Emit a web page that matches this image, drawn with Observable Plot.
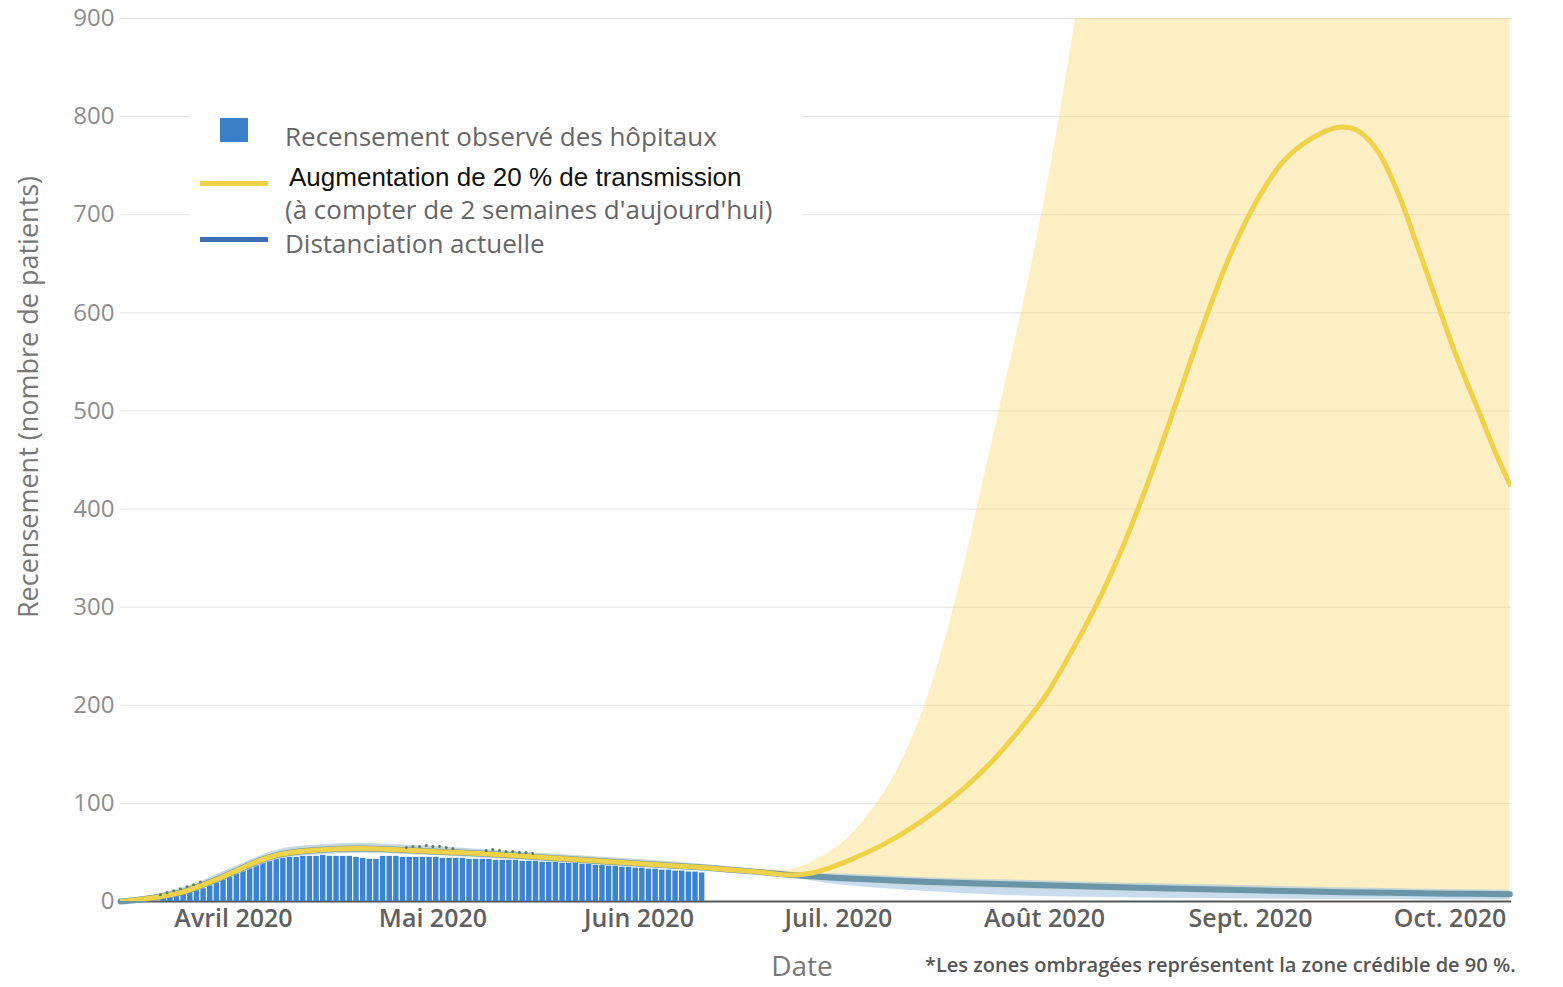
<!DOCTYPE html>
<html>
<head>
<meta charset="utf-8">
<script src="https://cdn.jsdelivr.net/npm/d3@7"></script>
<script src="https://cdn.jsdelivr.net/npm/@observablehq/plot@0.6"></script>
<style>
  body { margin: 0; background: #fff; }
  #wrap { position: relative; width: 1563px; height: 987px; overflow: hidden; font-family: "Open Sans", sans-serif; }
  #wrap svg { position: absolute; left: 0; top: 0; }
  .abs { position: absolute; white-space: nowrap; line-height: 1; }
</style>
</head>
<body>
<div id="wrap"></div>
<script>
// ---------- DATA ----------
const yTicks = [0, 100, 200, 300, 400, 500, 600, 700, 800, 900];
const xTickDates = ["2020-04-01", "2020-05-01", "2020-06-01", "2020-07-01", "2020-08-01", "2020-09-01", "2020-10-01"];
const xTickLabels = ["Avril 2020", "Mai 2020", "Juin 2020", "Juil. 2020", "Août 2020", "Sept. 2020", "Oct. 2020"];

// Observed hospital census (daily bars from 2020-03-21 to 2020-06-10)
const barStart = "2020-03-21";
const barValues = [
  3, 4, 5, 7, 9, 11, 13, 16, 19, 22, 25,
  28, 31, 34, 37, 39, 41, 43, 44, 45, 45,
  46, 46, 46, 47, 46, 46, 46, 46, 45, 44, 43, 43, 46, 46, 46, 45, 45, 45, 45, 45,
  45, 44, 44, 44, 44, 43, 43, 43, 43, 42, 42, 42, 42, 41, 41, 41, 40, 40, 40, 39, 39, 39, 38, 38, 37, 37, 36, 36, 35, 35, 34,
  34, 33, 33, 32, 32, 31, 31, 30, 30, 29
];

// Small observed points
const pointDates = ["2020-03-21","2020-03-22","2020-03-23","2020-03-24","2020-03-25","2020-03-26","2020-03-27",
  "2020-04-27","2020-04-28","2020-04-29","2020-04-30","2020-05-01","2020-05-02","2020-05-03","2020-05-04",
  "2020-05-09","2020-05-10","2020-05-11","2020-05-12","2020-05-13","2020-05-14","2020-05-15","2020-05-16"];
const pointValues = [7, 9, 11, 13, 15, 17, 20,
  55, 56, 56, 57, 56, 56, 55, 54,
  52, 53, 52, 51, 51, 50, 50, 49];

// Scenario: +20 % transmission (median)
const scenarioDates = ["2020-03-15","2020-03-18","2020-03-21","2020-03-24","2020-03-27","2020-03-30",
  "2020-04-02","2020-04-05","2020-04-08","2020-04-11","2020-04-15","2020-04-20","2020-04-25",
  "2020-05-01","2020-05-08","2020-05-15","2020-05-22","2020-05-29",
  "2020-06-05","2020-06-12","2020-06-19","2020-06-24","2020-06-27","2020-06-30",
  "2020-07-04","2020-07-08","2020-07-12","2020-07-16","2020-07-20","2020-07-24","2020-07-28",
  "2020-08-01","2020-08-05","2020-08-09","2020-08-13","2020-08-17","2020-08-21","2020-08-25","2020-08-29",
  "2020-09-02","2020-09-06","2020-09-10","2020-09-14","2020-09-17","2020-09-20","2020-09-23","2020-09-26","2020-09-29",
  "2020-10-02","2020-10-05","2020-10-08","2020-10-10"];
const scenarioValues = [0, 2, 5, 9, 16, 24,
  33, 42, 48, 51, 53, 54, 53,
  51, 49, 46, 43, 40,
  37, 34, 30, 27, 29, 35,
  46, 59, 75, 94, 116, 142, 173,
  208, 254, 305, 365, 435, 512, 590, 660,
  715, 755, 777, 789, 786, 766, 725, 670, 612,
  555, 505, 455, 425];

// Scenario 90 % credible band
const scenarioBandDates = ["2020-03-15","2020-03-21","2020-03-27","2020-04-02","2020-04-08","2020-04-15","2020-04-20",
  "2020-05-01","2020-05-15","2020-05-29","2020-06-12","2020-06-24","2020-06-28",
  "2020-07-02","2020-07-05","2020-07-08","2020-07-11","2020-07-14","2020-07-17","2020-07-20","2020-07-23","2020-07-26","2020-07-29",
  "2020-08-01","2020-08-04","2020-08-07","2020-08-10","2020-08-20","2020-09-01","2020-09-15","2020-10-01","2020-10-10"];
const scenarioBandLow = [0, 3, 13, 29, 44, 49, 50, 47, 42, 36, 31, 25, 22,
  19.5, 18.5, 17, 16, 15.3, 14.5, 14, 13.5, 13, 12.5,
  12, 11.7, 11.4, 11, 9.5, 8, 6.5, 5, 4.5];
const scenarioBandHigh = [1, 8, 20, 37, 52, 57, 58, 55, 50, 44, 37, 33, 44,
  62, 84, 112, 150, 200, 265, 345, 435, 525, 615,
  715, 830, 960, 1100, 1600, 2000, 2200, 2300, 2300];

// Current distancing (median)
const distDates = ["2020-03-15","2020-03-18","2020-03-21","2020-03-24","2020-03-27","2020-03-30",
  "2020-04-02","2020-04-05","2020-04-08","2020-04-11","2020-04-15","2020-04-20","2020-04-25",
  "2020-05-01","2020-05-08","2020-05-15","2020-05-22","2020-05-29",
  "2020-06-05","2020-06-12","2020-06-19","2020-06-24",
  "2020-07-01","2020-07-15","2020-08-01","2020-08-15","2020-09-01","2020-09-15","2020-10-01","2020-10-10"];
const distValues = [0, 2, 5, 9, 16, 24,
  33, 42, 48, 51, 53, 54, 53,
  51, 49, 46, 43, 40,
  37, 34, 30, 27,
  24, 20, 16.5, 14, 11.5, 9.5, 8, 7.5];

// Current distancing 90 % credible band
const distBandDates = ["2020-03-15","2020-03-21","2020-03-27","2020-04-02","2020-04-08","2020-04-15","2020-04-20",
  "2020-05-01","2020-05-15","2020-05-29","2020-06-12","2020-06-24",
  "2020-07-01","2020-07-15","2020-08-01","2020-08-15","2020-09-01","2020-09-15","2020-10-01","2020-10-10"];
const distBandLow = [0, 3, 12, 28, 43, 48, 49, 47, 42, 36, 31, 24, 17, 10, 5, 3.5, 2.5, 2, 1.5, 1.5];
const distBandHigh = [1, 8, 20, 38, 53, 58, 59, 56, 50, 44, 37, 29, 28, 24, 21, 18.5, 16, 14, 12, 11.5];

// ---------- BUILD TABLES ----------
const DAY = 864e5;
const bars = barValues.map((v, i) => ({date: new Date(Date.parse(barStart) + i * DAY), value: v}));
const points = pointDates.map((d, i) => ({date: new Date(d), value: pointValues[i]}));
const scenario = scenarioDates.map((d, i) => ({date: new Date(d), value: scenarioValues[i]}));
const scenarioBand = scenarioBandDates.map((d, i) => ({date: new Date(d), lo: scenarioBandLow[i], hi: scenarioBandHigh[i]}));
const dist = distDates.map((d, i) => ({date: new Date(d), value: distValues[i]}));
const distBand = distBandDates.map((d, i) => ({date: new Date(d), lo: distBandLow[i], hi: distBandHigh[i]}));
const tickDates = xTickDates.map(d => new Date(d));
const labelByTime = new Map(tickDates.map((d, i) => [+d, xTickLabels[i]]));

const plot = Plot.plot({
  width: 1563,
  height: 987,
  marginLeft: 120,
  marginRight: 52,
  marginTop: 18,
  marginBottom: 86,
  style: {fontFamily: "'Open Sans', sans-serif", background: "transparent", overflow: "visible"},
  x: {type: "utc", domain: [new Date("2020-03-15"), new Date("2020-10-10T06:00:00Z")]},
  y: {domain: [0, 900]},
  marks: [
    Plot.gridY(yTicks, {stroke: "#e3e3e3", strokeOpacity: 1, strokeWidth: 1}),
    Plot.ruleY([0], {stroke: "#555", strokeWidth: 2}),
    Plot.rectY(bars, {x: "date", y: "value", interval: "day", fill: "#3b84cf", insetLeft: 0.6, insetRight: 0.6}),
    Plot.areaY(scenarioBand, {x: "date", y1: "lo", y2: "hi", fill: "#f4d462", fillOpacity: 0.38, curve: "catmull-rom", clip: true}),
    Plot.areaY(distBand, {x: "date", y1: "lo", y2: "hi", fill: "#a3c4e2", fillOpacity: 0.6, curve: "catmull-rom"}),
    Plot.lineY(dist, {x: "date", y: "value", stroke: "#6b95a8", strokeWidth: 6, curve: "catmull-rom"}),
    Plot.lineY(scenario, {x: "date", y: "value", stroke: "#f0d24a", strokeWidth: 5, curve: "catmull-rom", clip: true}),
    Plot.dot(points, {x: "date", y: "value", r: 1.5, fill: "#5f7d64", stroke: null}),
    Plot.axisY(yTicks, {tickSize: 0, tickPadding: 6, label: null, fontSize: 24, color: "#8c8c8c", fontFamily: "'Open Sans', sans-serif"}),
    Plot.axisX(tickDates, {tickSize: 0, tickPadding: 8, label: null, fontSize: 25, fontWeight: 600, color: "#5f5f5f",
      tickFormat: d => labelByTime.get(+d), fontFamily: "'Open Sans', sans-serif"})
  ]
});

const wrap = document.getElementById("wrap");
wrap.appendChild(plot);

// ---------- TEXT / LEGEND ----------
function addDiv(html, css) {
  const el = document.createElement("div");
  el.className = "abs";
  el.innerHTML = html;
  Object.assign(el.style, css);
  wrap.appendChild(el);
  return el;
}
// Legend
addDiv("", {left: "190px", top: "103px", width: "612px", height: "162px", background: "#fff"});
addDiv("", {left: "220px", top: "118px", width: "28px", height: "24px", background: "#3a80c8"});
addDiv("Recensement observé des hôpitaux", {left: "285px", top: "123px", fontSize: "26px", color: "#666"});
addDiv("", {left: "200px", top: "181px", width: "68px", height: "5px", background: "#f0d24a"});
addDiv("Augmentation de 20 % de transmission", {left: "289px", top: "164px", fontSize: "26px", color: "#111", fontFamily: "'Liberation Sans', Arial, sans-serif"});
addDiv("(à compter de 2 semaines d'aujourd'hui)", {left: "285px", top: "196px", fontSize: "26px", color: "#666"});
addDiv("", {left: "200px", top: "237px", width: "68px", height: "5px", background: "#3d6eb4"});
addDiv("Distanciation actuelle", {left: "285px", top: "230px", fontSize: "26px", color: "#666"});

// Axis titles and footnote
addDiv("Recensement (nombre de patients)", {left: "27px", top: "397px", fontSize: "27px", color: "#777",
  transform: "translate(-50%, -50%) rotate(-90deg)"});
addDiv("Date", {left: "802px", top: "965px", fontSize: "28px", color: "#777", transform: "translate(-50%, -50%)"});
addDiv("*Les zones ombragées représentent la zone crédible de 90 %.", {left: "925px", top: "965px", fontSize: "20px",
  fontWeight: "600", color: "#555", transform: "translate(0, -50%)"});
</script>
</body>
</html>
